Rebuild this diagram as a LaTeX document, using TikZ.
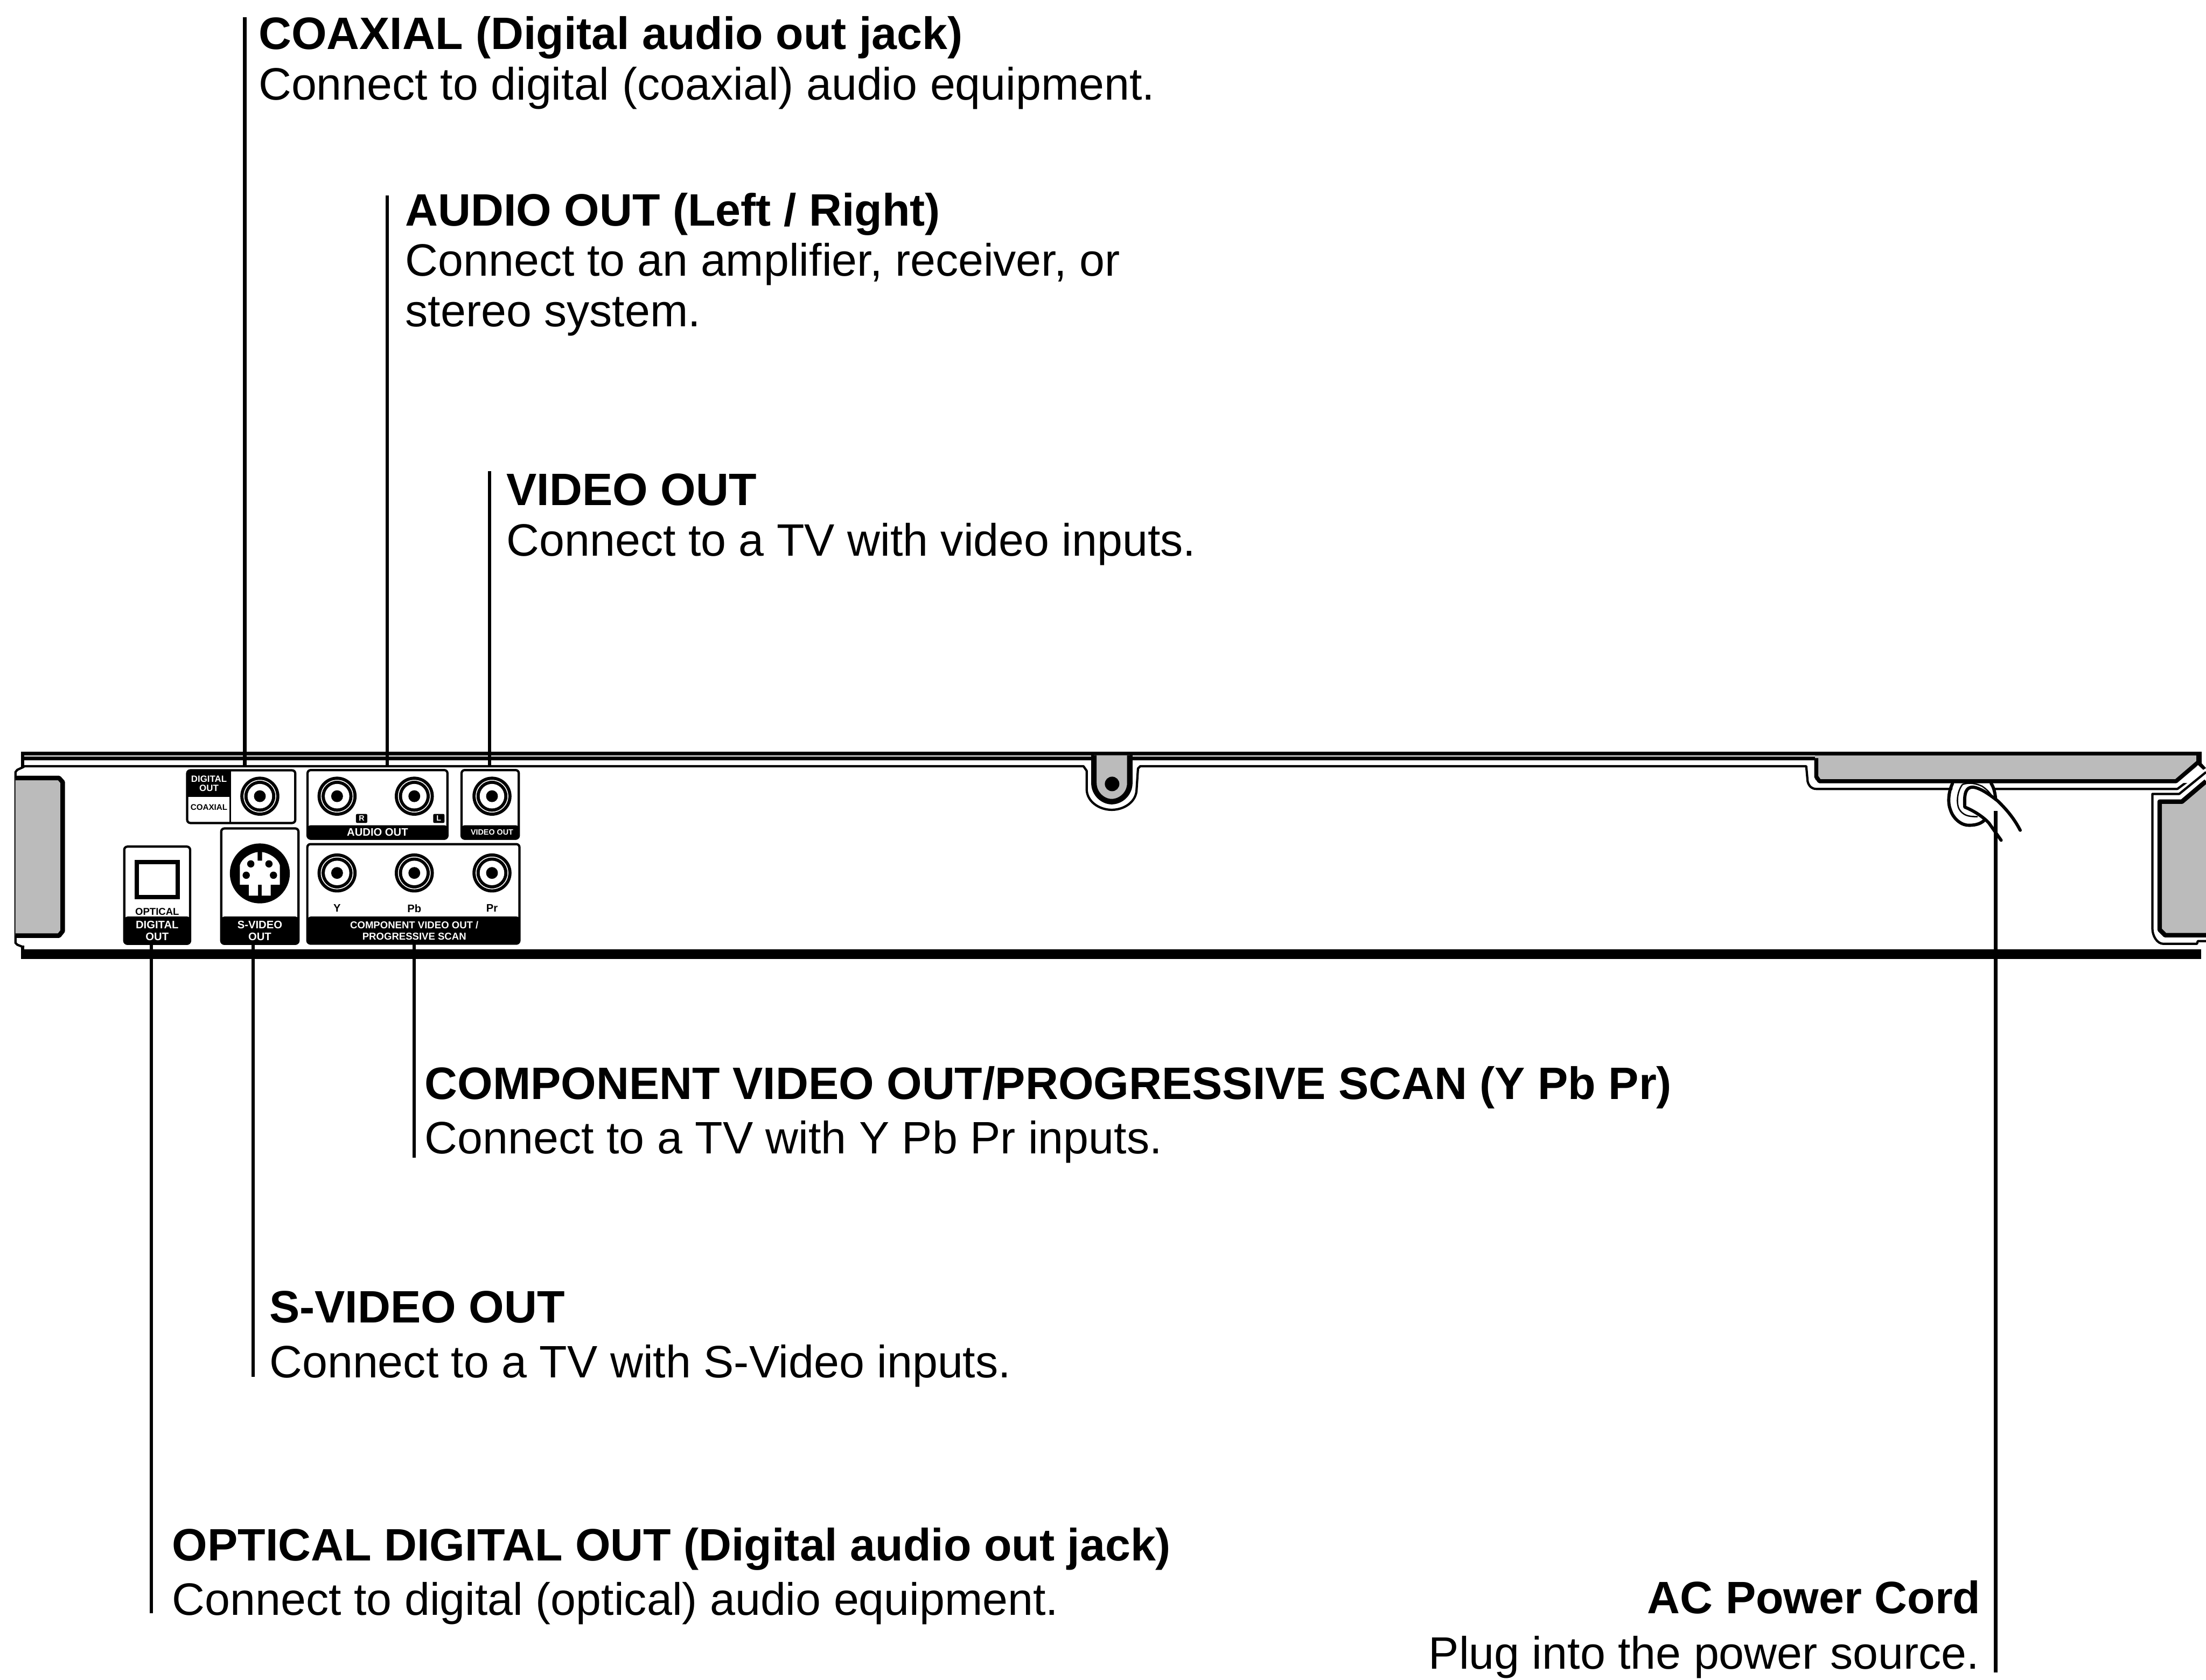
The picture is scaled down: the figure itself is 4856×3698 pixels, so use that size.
\documentclass[tikz,border=0pt]{standalone}
\usepackage{fontspec}
\setmainfont{Liberation Sans}
\definecolor{panelgrey}{HTML}{BBBBBB}
\tikzset{
  x=1pt,y=-1pt,
  lead/.style={line width=7.5pt,black},
  head/.style={inner sep=0pt,anchor=base west,font=\bfseries\fontsize{100}{110}\selectfont},
  body/.style={inner sep=0pt,anchor=base west,font=\fontsize{100}{110}\selectfont},
  heade/.style={head,anchor=base east},
  bodye/.style={body,anchor=base east},
  portbox/.style={draw=black,line width=5pt,fill=white,rounded corners=7pt},
  portbar/.style={fill=black,rounded corners=7pt},
  tinyw/.style={inner sep=0pt,text=white,align=center,font=\bfseries\fontsize{20}{22}\selectfont},
  tinyk/.style={inner sep=0pt,text=black,align=center,font=\bfseries\fontsize{20}{22}\selectfont},
  tagbox/.style={fill=black,text=white,rounded corners=3pt,inner sep=0pt,minimum width=25pt,minimum height=20pt,font=\bfseries\fontsize{17}{18}\selectfont},
  thinl/.style={line width=5pt,black,line join=round},
  thickl/.style={line width=10pt,black,line join=round},
  cordl/.style={line width=7pt,black,line cap=round,line join=round},
  jackpic/.pic={
    \fill[black] (0,0) circle[radius=43pt];
    \fill[white] (0,0) circle[radius=36pt];
    \fill[black] (0,0) circle[radius=34pt];
    \fill[white] (0,0) circle[radius=27pt];
    \fill[black] (0,0) circle[radius=13pt];
  }
}
\begin{document}
\begin{tikzpicture}
\useasboundingbox (0,0) rectangle (4856,3698);
\fill[white] (0,0) rectangle (4856,3698);

% device rails
\fill[black] (50,1655) rectangle (4846,1663);
\fill[black] (50,1666) rectangle (4000,1674);
\fill[black] (50,2090) rectangle (4845,2112);
\fill[black] (46,1655) rectangle (53,1688);
\fill[black] (46,2082) rectangle (53,2112);

% left end and panel
\draw[thinl] (53,1688) -- (38,1695) -- (34,1700) -- (34,2076) -- (38,2080) -- (53,2086);
\draw[thickl,fill=panelgrey] (34,1713) -- (130,1713) -- (138,1722) -- (138,2050) -- (130,2060) -- (34,2060);

% thin inner line with screw recess and step
\draw[thinl] (50,1687) -- (2385,1687) -- (2392,1697) -- (2392,1737)
  .. controls (2392,1765) and (2420,1783) .. (2447,1783)
  .. controls (2475,1783) and (2502,1765) .. (2502,1737)
  -- (2505,1692) -- (2510,1687) -- (3976,1687) -- (3979,1720)
  .. controls (3981,1730) and (3988,1737) .. (3998,1737) -- (4793,1737) -- (4856,1690);

% screw tab
\fill[white] (2402,1663) rectangle (2493,1674);
\draw[line width=12pt,black,line join=round,fill=panelgrey] (2408,1663) -- (2408,1724)
  .. controls (2408,1748) and (2428,1765) .. (2447,1765)
  .. controls (2467,1765) and (2487,1748) .. (2487,1724) -- (2487,1663);
\fill[black] (2448,1726) circle[radius=16pt];

% grey strip, top right
\fill[panelgrey] (3995,1663) rectangle (4836,1718);
\fill[white] (4792,1724) -- (4846,1680) -- (4856,1680) -- (4856,1724) -- cycle;
\draw[line width=9pt,black,line join=round,fill=panelgrey] (3998,1669) -- (3998,1710) -- (4005,1720) -- (4790,1720) -- (4840,1677);
\fill[black] (4835,1655) rectangle (4846,1682);
\fill[black] (4836,1673) -- (4846,1680) -- (4856,1691) -- (4850,1695) -- (4838,1684) -- cycle;

% right panel
\fill[panelgrey] (4856,1720) -- (4803,1765) -- (4754,1765) -- (4754,2047) -- (4766,2059) -- (4856,2059) -- cycle;
\draw[thinl] (4856,1700) -- (4797,1748) -- (4738,1748) -- (4738,2045)
  .. controls (4738,2060) and (4748,2078) .. (4762,2078) -- (4836,2078) -- (4838,2072) -- (4856,2072);
\draw[thickl] (4856,1720) -- (4803,1765) -- (4754,1765) -- (4754,2047) -- (4766,2059) -- (4856,2059);

% power cord
\fill[white] (4300,1727) -- (4296,1745) -- (4300,1790) -- (4345,1812) -- (4390,1770) -- (4386,1727) -- cycle;
\draw[cordl] (4298,1725) .. controls (4288,1745) and (4288,1770) .. (4293,1782)
  .. controls (4300,1805) and (4320,1818) .. (4335,1817) .. controls (4350,1817) and (4360,1813) .. (4367,1807);
\draw[cordl] (4383,1725) .. controls (4390,1735) and (4392,1750) .. (4393,1760);
\draw[line width=3pt,black] (4320,1727) .. controls (4306,1745) and (4306,1775) .. (4315,1785)
  .. controls (4325,1798) and (4340,1798) .. (4353,1798);
\draw[line width=3pt,black] (4320,1727) .. controls (4335,1722) and (4350,1725) .. (4363,1731) .. controls (4372,1737) and (4378,1743) .. (4383,1750);
\draw[cordl] (4447,1828) .. controls (4435,1805) and (4420,1785) .. (4397,1763)
  .. controls (4380,1750) and (4360,1735) .. (4343,1733)
  .. controls (4328,1733) and (4323,1745) .. (4325,1777)
  .. controls (4350,1787) and (4370,1803) .. (4378,1812)
  -- (4405,1850);

% port boxes
\node[portbox,minimum width=238pt,minimum height=116pt] (coaxbox) at (531,1754) {};
\fill[black,rounded corners=5pt] (412,1696) rectangle (507,1753);
\draw[line width=3pt] (507,1696) -- (507,1812);
\draw[line width=3pt] (412,1753) -- (507,1753);
\node[tinyw] (coaxdig) at (460,1725) {DIGITAL\\[-2pt]OUT};
\node[tinyk,font=\bfseries\fontsize{18}{20}\selectfont] (coaxname) at (460,1778) {COAXIAL};

\node[portbox,minimum width=308pt,minimum height=151pt] (audiobox) at (831,1771) {};
\fill[portbar] (677,1817) rectangle (985,1849);
\node[tinyw,font=\bfseries\fontsize{24}{26}\selectfont] (audiotxt) at (831,1832) {AUDIO OUT};
\node[tagbox] (rtag) at (796,1802) {R};
\node[tagbox] (ltag) at (966,1802) {L};

\node[portbox,minimum width=126pt,minimum height=151pt] (videobox) at (1079,1771) {};
\fill[portbar] (1016,1817) rectangle (1142,1849);
\node[tinyw,font=\bfseries\fontsize{17}{19}\selectfont] (videotxt) at (1083,1832) {VIDEO OUT};

\node[portbox,minimum width=145pt,minimum height=214pt] (optbox) at (346,1971) {};
\fill[portbar] (274,2018) rectangle (419,2080);
\draw[line width=10pt] (301,1898) rectangle (391,1975);
\node[tinyk,font=\bfseries\fontsize{22}{24}\selectfont] (opttxt) at (346,2007) {OPTICAL};
\node[tinyw,font=\bfseries\fontsize{24}{25}\selectfont] (optout) at (346,2049) {DIGITAL\\[1pt]OUT};

\node[portbox,minimum width=170pt,minimum height=254pt] (svidbox) at (572,1951) {};
\fill[portbar] (487,2018) rectangle (657,2080);
\node[tinyw,font=\bfseries\fontsize{24}{25}\selectfont] (svidout) at (572,2049) {S-VIDEO\\[1pt]OUT};

\node[portbox,minimum width=467pt,minimum height=219pt] (compbox) at (910,1968) {};
\fill[portbar] (677,2018) rectangle (1144,2080);
\node[tinyk,font=\bfseries\fontsize{24}{26}\selectfont] (ytag) at (742,2000) {Y};
\node[tinyk,font=\bfseries\fontsize{24}{26}\selectfont] (pbtag) at (912,2000) {Pb};
\node[tinyk,font=\bfseries\fontsize{24}{26}\selectfont] (prtag) at (1083,2000) {Pr};
\node[tinyw,font=\bfseries\fontsize{22}{25}\selectfont] (comptxt) at (912,2049) {COMPONENT VIDEO OUT /\\[1pt]PROGRESSIVE SCAN};

% jacks
\foreach \jx/\jy in {572/1753,742/1753,912/1753,1083/1753,742/1922,912/1922,1083/1922}
  \pic at (\jx,\jy) {jackpic};

% S-video connector
\fill[black] (572,1923) circle[radius=66pt];
\fill[white] (528,1905) .. controls (532,1890) and (552,1878) .. (567,1876) -- (567,1895) -- (577,1895) -- (577,1876)
  .. controls (592,1878) and (612,1890) .. (616,1905) -- (616,1948) -- (596,1948) -- (596,1972) -- (576,1972) -- (576,1948) -- (568,1948) -- (568,1972) -- (548,1972) -- (548,1948) -- (528,1948) -- cycle;
\foreach \px/\py in {552/1902,592/1902,542/1927,602/1927}
  \fill[black] (\px,\py) circle[radius=8pt];

% leader coordinates
\coordinate (cTop) at (539,38);
\coordinate (cEnd) at (539,1688);
\coordinate (aTop) at (852,430);
\coordinate (aEnd) at (852,1688);
\coordinate (vTop) at (1078,1037);
\coordinate (vEnd) at (1078,1688);
\coordinate (oEnd) at (333,2078);
\coordinate (oBot) at (333,3552);
\coordinate (sEnd) at (557,2078);
\coordinate (sBot) at (557,3032);
\coordinate (pEnd) at (912,2078);
\coordinate (pBot) at (912,2549);
\coordinate (acTop) at (4393,1786);
\coordinate (acBot) at (4393,3682);
\draw[lead] (cTop) -- (cEnd);
\draw[lead] (aTop) -- (aEnd);
\draw[lead] (vTop) -- (vEnd);
\draw[lead] (oEnd) -- (oBot);
\draw[lead] (sEnd) -- (sBot);
\draw[lead] (pEnd) -- (pBot);
\draw[lead] (acTop) -- (acBot);

% labels
\node[head] (t1) at (569,108) {COAXIAL (Digital audio out jack)};
\node[body] (b1) at (569,220) {Connect to digital (coaxial) audio equipment.};
\node[head] (t2) at (892,497) {AUDIO OUT (Left / Right)};
\node[body] (b2) at (892,608) {Connect to an amplifier, receiver, or};
\node[body] (b2b) at (892,719) {stereo system.};
\node[head] (t3) at (1115,1113) {VIDEO OUT};
\node[body] (b3) at (1115,1224) {Connect to a TV with video inputs.};
\node[head] (t4) at (935,2420) {COMPONENT VIDEO OUT/PROGRESSIVE SCAN (Y Pb Pr)};
\node[body] (b4) at (935,2540) {Connect to a TV with Y Pb Pr inputs.};
\node[head] (t5) at (593,2912) {S-VIDEO OUT};
\node[body] (b5) at (593,3033) {Connect to a TV with S-Video inputs.};
\node[head] (t6) at (379,3436) {OPTICAL DIGITAL OUT (Digital audio out jack)};
\node[body] (b6) at (379,3556) {Connect to digital (optical) audio equipment.};
\node[heade] (t7) at (4360,3553) {AC Power Cord};
\node[bodye] (b7) at (4357,3674) {Plug into the power source.};
\end{tikzpicture}
\end{document}
